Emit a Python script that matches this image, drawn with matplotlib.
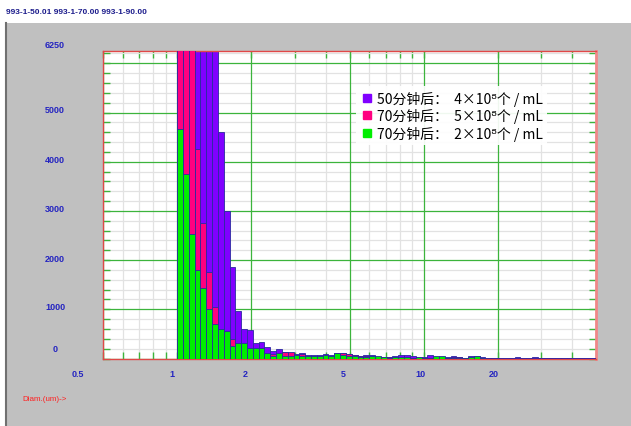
import numpy as np
import matplotlib
matplotlib.use("Agg")
import matplotlib.pyplot as plt
from matplotlib.transforms import ScaledTranslation, blended_transform_factory
from matplotlib.patches import Rectangle
from matplotlib.lines import Line2D

# diameter channels (um): 72 log-spaced bins from 1 to 50
diam_edges = np.geomspace(1.0, 50.0, 73)

# counts per channel (values above 6250 are clipped)
n_50min = [6500, 6500, 6500, 6500, 6500, 6500, 6500, 4610, 3000, 1850,
           958, 599, 570, 314, 341, 227, 158, 193, 126, 120,
           91, 112, 77, 77, 77, 91, 77, 112, 112, 98,
           77, 57, 70, 64, 30, 30, 30, 50, 70, 70,
           50, 30, 30, 70, 37, 37, 24, 57, 37, 17,
           44, 44, 24, 10, 5, 5, 5, 5, 30, 5,
           5, 24, 5, 3, 3, 3, 3, 3, 3, 3, 3, 3]
n_70min = [6500, 6500, 6500, 4265, 2763, 1749, 1039, 550, 500, 400,
           300, 280, 190, 190, 190, 100, 91, 90, 126, 126,
           70, 91, 50, 50, 50, 50, 50, 90, 112, 98,
           77, 57, 57, 40, 30, 20, 30, 30, 37, 30,
           20, 20, 15, 20, 25, 25, 15, 37, 30, 10,
           20, 20, 10, 2, 2, 2, 2, 2, 2, 2,
           2, 2, 2, 2, 2, 2, 2, 2, 2, 2, 2, 2]
n_90min = [4657, 3744, 2540, 1802, 1424, 1004, 700, 599, 552, 260,
           320, 314, 210, 210, 207, 108, 57, 105, 57, 57,
           77, 57, 57, 57, 57, 70, 57, 112, 70, 57,
           44, 30, 37, 44, 44, 24, 20, 30, 24, 37,
           17, 24, 17, 17, 44, 44, 10, 17, 10, 17,
           37, 44, 5, 0, 0, 0, 0, 0, 0, 0,
           0, 0, 0, 0, 0, 0, 0, 0, 0, 0, 0, 0]

series_labels = ["50分钟后：  4×10⁸个 / mL",
                 "70分钟后：  5×10⁸个 / mL",
                 "70分钟后：  2×10⁸个 / mL"]
series_colors = ["#8000ff", "#ff0080", "#00ee00"]

x_ticks = [0.5, 1, 2, 5, 10, 20]
x_tick_labels = ["0.5", "1", "2", "5", "10", "20"]
x_minor = [0.6, 0.7, 0.8, 0.9, 3, 4, 6, 7, 8, 9, 30, 40]
y_ticks = [0, 1000, 2000, 3000, 4000, 5000, 6250]
y_tick_labels = ["0", "1000", "2000", "3000", "4000", "5000", "6250"]

W, H = 631, 427
fig = plt.figure(figsize=(W / 100, H / 100), dpi=100, facecolor="white")

# window-like gray background with a white header strip
fig.patches.append(Rectangle((7 / W, 0), 1, (H - 24) / H, transform=fig.transFigure,
                             facecolor="#c0c0c0", edgecolor="none", zorder=-10))
fig.lines.append(Line2D([6 / W, 6 / W], [0, (H - 24) / H], transform=fig.transFigure,
                        color="#707070", lw=1.5))

ax = fig.add_axes([103 / W, (H - 359.5) / H, 493 / W, 307.5 / H])
ax.set_facecolor("white")
ax.set_xscale("log")
ax.set_xlim(0.5, 50)
ax.set_ylim(0, 6250)

widths = np.diff(diam_edges)
for vals, col, z in zip([n_50min, n_70min, n_90min], series_colors, [2, 3, 4]):
    ax.bar(diam_edges[:-1], vals, width=widths, align="edge", color=col,
           edgecolor="#2a2aa0", linewidth=0.6, zorder=z)

green = "#3cb43c"
# light minor grid from the axis, green major grid on top of it
ax.set_xticks(x_ticks)
ax.set_xticks(x_minor, minor=True)
ax.set_yticks(np.arange(0, 6001, 1000))
ax.set_yticks(np.arange(0, 6250, 200), minor=True)
ax.xaxis.set_major_formatter(plt.NullFormatter())
ax.xaxis.set_minor_formatter(plt.NullFormatter())
ax.yaxis.set_major_formatter(plt.NullFormatter())
ax.grid(which="minor", color="#e2e2e2", lw=0.9)
ax.set_axisbelow(True)
for xv in ax.get_xticks():
    ax.axvline(xv, color=green, lw=0.9, zorder=1)
for yv in ax.get_yticks():
    ax.axhline(yv, color=green, lw=0.9, zorder=1)
ax.tick_params(which="both", direction="in", color=green, width=1,
               top=True, right=True, length=5)

for s in ["left", "top", "bottom"]:
    ax.spines[s].set_color("#e04848")
    ax.spines[s].set_linewidth(1.0)
ax.spines["right"].set_color("#f08888")
ax.spines["right"].set_linewidth(2)

lab_kw = dict(color="#2424c0", fontsize=6.5, fontweight="bold",
              family="Liberation Sans", ha="center", va="center")
xt = blended_transform_factory(ax.transData, ax.transAxes)
x_dx = [-25, -5, -6, -6, -3, -4]
for v, lab, dx in zip(x_ticks, x_tick_labels, x_dx):
    ax.text(v, 0, lab, transform=xt + ScaledTranslation(dx / 100, -15.5 / 100, fig.dpi_scale_trans),
            **lab_kw)
yt = blended_transform_factory(ax.transAxes, ax.transData)
y_dy = [9.5, 3, 2, 2.7, 2.4, 3, 6]
for v, lab, dy in zip(y_ticks, y_tick_labels, y_dy):
    ax.text(0, v, lab, transform=yt + ScaledTranslation(-48 / 100, dy / 100, fig.dpi_scale_trans),
            **lab_kw)

handles = [Line2D([], [], marker="s", ls="none", markersize=6, color=c) for c in series_colors]
leg = ax.legend(handles, series_labels, loc="upper left", bbox_to_anchor=(0.513, 0.885),
                borderaxespad=0, frameon=True, fancybox=False, handletextpad=0.2,
                handlelength=1.0, labelspacing=0.2, borderpad=0.3,
                prop={"family": ["Noto Sans CJK SC", "DejaVu Sans"], "size": 10})
leg.get_frame().set_facecolor("white")
leg.get_frame().set_edgecolor("none")
leg.get_frame().set_alpha(0.92)
leg.set_zorder(10)

fig.text(6 / W, 1 - 13 / H, "993-1-50.01 993-1-70.00 993-1-90.00", color="#1c1c8c",
         fontsize=6, fontweight="bold", family="Liberation Sans", va="center")
fig.text(22 / W, 1 - 400 / H, "Diam.(um)->", color="#ff2020", fontsize=5.8,
         family="Liberation Sans", va="center")

fig.savefig("out.png", dpi=100)
